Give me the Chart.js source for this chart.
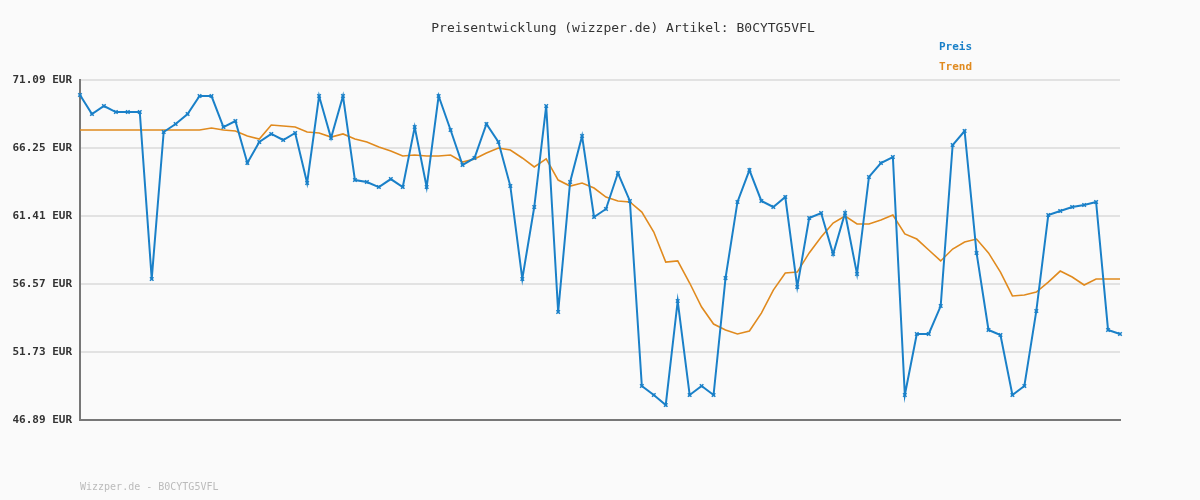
<!DOCTYPE html>
<html>
<head>
<meta charset="utf-8">
<script src="https://cdn.jsdelivr.net/npm/chart.js@4"></script>
<style>
  body { margin: 0; background: #fafafa; }
  #wrap { position: relative; width: 1200px; height: 500px; font-family: "DejaVu Sans Mono", monospace; }
  canvas { position: absolute; left: 0; top: 0; }
  .txt { position: absolute; white-space: pre; }
</style>
</head>
<body>
<div id="wrap">
  <canvas id="c" width="1200" height="500"></canvas>
  <div class="txt" style="left:0;width:1246px;text-align:center;top:20px;font-size:13px;color:#333;">Preisentwicklung (wizzper.de) Artikel: B0CYTG5VFL</div>
  <div class="txt" style="left:939px;top:40px;font-size:11px;font-weight:bold;color:#1a80c8;">Preis</div>
  <div class="txt" style="left:939px;top:60px;font-size:11px;font-weight:bold;color:#e08a1e;">Trend</div>
  <div class="txt" style="left:80px;top:481px;font-size:10px;color:#bbb;">Wizzper.de - B0CYTG5VFL</div>
</div>
<script>
// price history, one entry per day
const preis = [
  70.02, 68.67, 69.24, 68.81, 68.81, 68.81, 56.93, 67.39, 67.96, 68.67,
  69.95, 69.95, 67.74, 68.17, 65.18, 66.68, 67.25, 66.82, 67.32, 63.76,
  69.95, 66.96, 69.95, 63.97, 63.83, 63.47, 64.04, 63.47, 67.74, 63.47,
  69.95, 67.53, 65.04, 65.54, 67.96, 66.68, 63.54, 56.93, 62.05, 69.24,
  54.58, 63.83, 67.10, 61.34, 61.91, 64.47, 62.48, 49.31, 48.67, 47.96,
  55.36, 48.67, 49.31, 48.67, 56.99, 62.41, 64.68, 62.48, 62.05, 62.76,
  56.36, 61.27, 61.62, 58.70, 61.62, 57.28, 64.19, 65.18, 65.61, 48.67,
  53.01, 53.01, 55.00, 66.46, 67.46, 58.78, 53.30, 52.94, 48.67, 49.31,
  54.65, 61.48, 61.77, 62.05, 62.19, 62.41, 53.30, 53.01
];
const trend = [
  67.53, 67.53, 67.53, 67.53, 67.53, 67.53, 67.53, 67.53, 67.53, 67.53,
  67.53, 67.67, 67.53, 67.46, 67.10, 66.89, 67.89, 67.82, 67.74, 67.39,
  67.32, 67.03, 67.25, 66.89, 66.68, 66.32, 66.04, 65.68, 65.75, 65.68,
  65.68, 65.75, 65.25, 65.47, 65.89, 66.25, 66.11, 65.54, 64.90, 65.47,
  63.97, 63.54, 63.76, 63.40, 62.76, 62.48, 62.41, 61.69, 60.27, 58.13,
  58.21, 56.64, 54.93, 53.72, 53.30, 53.01, 53.22, 54.50, 56.14, 57.35,
  57.42, 58.78, 59.91, 60.91, 61.41, 60.84, 60.84, 61.13, 61.48, 60.13,
  59.77, 58.99, 58.21, 59.06, 59.56, 59.77, 58.78, 57.42, 55.72, 55.79,
  56.00, 56.71, 57.49, 57.07, 56.50, 56.93, 56.93, 56.93
];
const labels = preis.map((_, i) => i + 1);
const yTicks = [46.89, 51.73, 56.57, 61.41, 66.25, 71.09];

new Chart(document.getElementById('c'), {
  type: 'line',
  data: {
    labels,
    datasets: [
      { data: preis, borderColor: '#1a80c8', backgroundColor: '#1a80c8', borderWidth: 2,
        pointStyle: 'crossRot', pointRadius: 2.5, pointBorderWidth: 1.5, tension: 0, order: 1 },
      { data: trend, borderColor: '#e08a1e', borderWidth: 1.6, pointRadius: 0, tension: 0, order: 2 }
    ]
  },
  options: {
    responsive: false,
    animation: false,
    layout: { padding: { top: 80, right: 80, bottom: 80, left: 0 } },
    plugins: { legend: { display: false }, tooltip: { enabled: false } },
    scales: {
      x: {
        offset: false,
        ticks: { display: false },
        grid: { display: false },
        border: { color: '#777', width: 2 },
        afterFit: s => { s.height = 0; }
      },
      y: {
        min: 46.89, max: 71.09,
        afterBuildTicks: s => { s.ticks = yTicks.map(v => ({ value: v })); },
        ticks: { color: '#333', font: { family: 'DejaVu Sans Mono', size: 11, weight: 'bold' },
                 padding: 8, callback: v => v.toFixed(2) + ' EUR' },
        grid: { color: '#e2e2e2', lineWidth: 2, drawTicks: false },
        border: { color: '#777', width: 2 },
        afterFit: s => { s.width = 80; }
      }
    }
  }
});
</script>
</body>
</html>
